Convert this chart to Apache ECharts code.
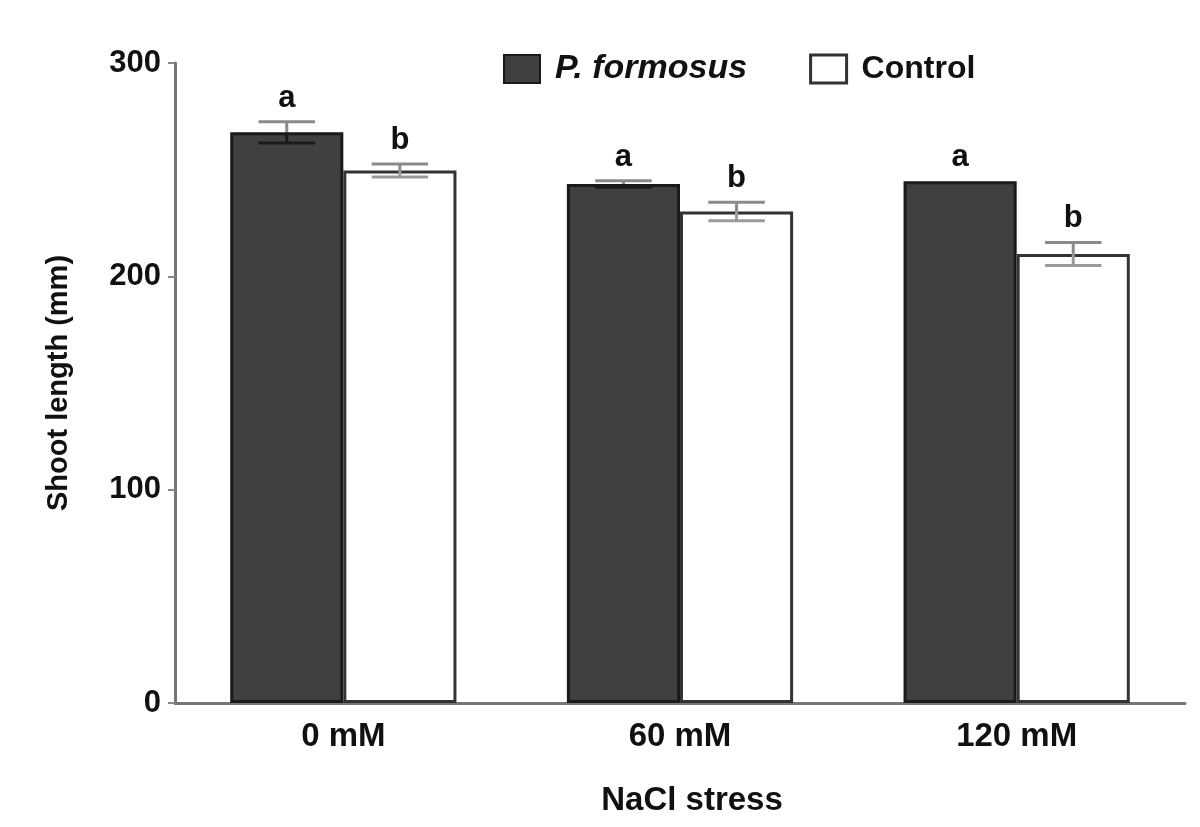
<!DOCTYPE html>
<html>
<head>
<meta charset="utf-8">
<script src="https://cdn.jsdelivr.net/npm/echarts@6/dist/echarts.min.js"></script>
<style>html,body{margin:0;padding:0;background:#fff}#c{width:1200px;height:827px}</style>
</head>
<body>
<div id="c"></div>
<script>
var categories = ['0 mM', '60 mM', '120 mM'];
var seriesNames = ['P. formosus', 'Control'];
var formosusMean = [267.5, 243.3, 244.6];
var formosusErr = [5.0, 1.5, 0.3];
var formosusLetters = ['a', 'a', 'a'];
var controlMean = [249.6, 230.4, 210.5];
var controlErr = [3.0, 4.3, 5.4];
var controlLetters = ['b', 'b', 'b'];
var yTicks = [0, 100, 200, 300];

var FONT = '"Liberation Sans", Arial, sans-serif';
var BAR_FRAC = 0.336;

function errData(means, errs, letters, idx) {
  return means.map(function (m, i) { return [i, m, errs[i], letters[i], idx]; });
}

function renderErr(params, api) {
  var cat = api.value(0), mean = api.value(1), err = api.value(2);
  var sIdx = api.value(4);
  var catW = api.size([1, 0])[0];
  var bw = catW * BAR_FRAC;
  var c = api.coord([cat, mean]);
  var x = c[0] + (sIdx === 0 ? -bw / 2 : bw / 2);
  var yTop = api.coord([cat, mean + err])[1];
  var yBot = api.coord([cat, mean - err])[1];
  var yMid = c[1];
  var capHalf = bw / 4;
  var upColor = '#8a8a8a';
  var lowColor = sIdx === 0 ? '#1a1a1a' : '#9a9a9a';
  var children = [];
  if (err > 0.5) {
    children.push(
      { type: 'line', shape: { x1: x, y1: yTop, x2: x, y2: yMid }, style: { stroke: upColor, lineWidth: 3 } },
      { type: 'line', shape: { x1: x - capHalf, y1: yTop, x2: x + capHalf, y2: yTop }, style: { stroke: upColor, lineWidth: 3 } },
      { type: 'line', shape: { x1: x, y1: yMid, x2: x, y2: yBot }, style: { stroke: lowColor, lineWidth: 3 } },
      { type: 'line', shape: { x1: x - capHalf, y1: yBot, x2: x + capHalf, y2: yBot }, style: { stroke: lowColor, lineWidth: 3 } }
    );
  }
  var lbl = sIdx === 0 ? formosusLetters[cat] : controlLetters[cat];
  children.push({
    type: 'text',
    x: x, y: Math.min(yTop, yMid) - 8,
    style: { text: lbl, fill: '#111', font: 'bold 31px ' + FONT, align: 'center', verticalAlign: 'bottom' }
  });
  return { type: 'group', children: children };
}

var chart = echarts.init(document.getElementById('c'), null, { renderer: 'canvas' });
chart.setOption({
  animation: false,
  backgroundColor: '#fff',
  grid: { left: 175, right: 15, top: 63, bottom: 124, containLabel: false },
  legend: {
    top: 47, left: 498,
    itemWidth: 36, itemHeight: 28, itemGap: 62,
    data: [
      { name: seriesNames[0], icon: 'rect', itemStyle: { color: '#404040', borderColor: '#1a1a1a', borderWidth: 2 } },
      { name: seriesNames[1], icon: 'rect', itemStyle: { color: '#ffffff', borderColor: '#333', borderWidth: 3 } }
    ],
    formatter: function (n) { return n === seriesNames[0] ? '{i|' + n + '}' : '{b|' + n + '}'; },
    textStyle: {
      padding: [0, 0, 0, 10],
      rich: {
        i: { fontFamily: FONT, fontWeight: 'bold', fontStyle: 'italic', fontSize: 34, color: '#111' },
        b: { fontFamily: FONT, fontWeight: 'bold', fontSize: 32, color: '#111' }
      }
    }
  },
  xAxis: {
    type: 'category',
    data: categories,
    name: 'NaCl stress',
    nameLocation: 'middle',
    nameGap: 81,
    nameTextStyle: { fontFamily: FONT, fontWeight: 'bold', fontSize: 33, color: '#111', padding: [0, 0, 0, 24] },
    axisLine: { lineStyle: { color: '#777', width: 3 } },
    axisTick: { alignWithLabel: true, length: 9, lineStyle: { color: '#888', width: 3 } },
    axisLabel: { fontFamily: FONT, fontWeight: 'bold', fontSize: 33, color: '#111', margin: 17 }
  },
  yAxis: {
    type: 'value',
    min: 0, max: 300, interval: 100,
    name: 'Shoot length (mm)',
    nameLocation: 'middle',
    nameGap: 102,
    nameTextStyle: { fontFamily: FONT, fontWeight: 'bold', fontSize: 29, color: '#111' },
    axisLine: { show: true, lineStyle: { color: '#777', width: 3 } },
    axisTick: { show: true, length: 7, lineStyle: { color: '#888', width: 2 } },
    axisLabel: { fontFamily: FONT, fontWeight: 'bold', fontSize: 31, color: '#111', margin: 14,
      formatter: function (v) { return yTicks.indexOf(v) >= 0 ? String(v) : ''; } },
    splitLine: { show: false }
  },
  series: [
    { name: seriesNames[0], type: 'bar', data: formosusMean, barWidth: (BAR_FRAC * 100) + '%', barGap: '0%',
      itemStyle: { color: '#404040', borderColor: '#1a1a1a', borderWidth: 3 }, z: 2 },
    { name: seriesNames[1], type: 'bar', data: controlMean, barWidth: (BAR_FRAC * 100) + '%', barGap: '0%',
      itemStyle: { color: '#ffffff', borderColor: '#333', borderWidth: 3 }, z: 2 },
    { type: 'custom', renderItem: renderErr, data: errData(formosusMean, formosusErr, formosusLetters, 0),
      encode: { x: 0, y: 1 }, z: 5, silent: true },
    { type: 'custom', renderItem: renderErr, data: errData(controlMean, controlErr, controlLetters, 1),
      encode: { x: 0, y: 1 }, z: 5, silent: true }
  ]
});
</script>
</body>
</html>
